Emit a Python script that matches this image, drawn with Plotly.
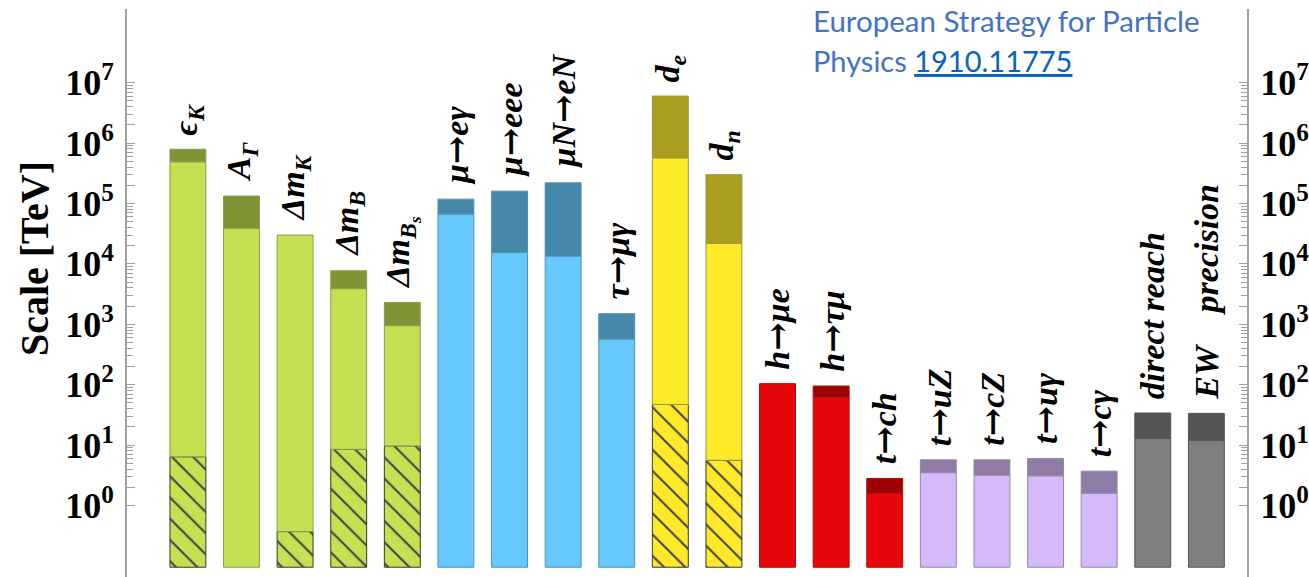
import math
import plotly.graph_objects as go

# ---------------- data ----------------
ARROW = "<span style=\"font-family:'DejaVu Serif'\">→</span>"
labels = ["ϵ<sub>K</sub>", "A<sub>Γ</sub>", "Δm<sub>K</sub>", "Δm<sub>B</sub>", "Δm<sub>B<sub>s</sub></sub>",
          "μ" + ARROW + "eγ", "μ" + ARROW + "eee", "μN" + ARROW + "eN", "τ" + ARROW + "μγ",
          "d<sub>e</sub>", "d<sub>n</sub>",
          "h" + ARROW + "μe", "h" + ARROW + "τμ", "t" + ARROW + "ch", "t" + ARROW + "uZ",
          "t" + ARROW + "cZ", "t" + ARROW + "uγ", "t" + ARROW + "cγ",
          "direct reach", "EW    precision"]
groups = ["green"] * 5 + ["blue"] * 4 + ["yellow"] * 2 + ["red"] * 3 + ["purple"] * 4 + ["grey"] * 2

# hatched (lowest) segment top, TeV (None = no hatched segment)
hatch_top = [6.4, None, 0.37, 8.5, 9.7, None, None, None, None, 47, 5.6,
             None, None, None, None, None, None, None, None, None]
# light segment top, TeV
light_top = [4.9e5, 3.9e4, 3.0e4, 3.9e3, 950, 6.7e4, 1.55e4, 1.35e4, 570, 5.7e5, 2.2e4,
             104, 63, 1.6, 3.5, 3.2, 3.1, 1.6, 13, 12]
# full bar top (dark segment top), TeV
upper = [7.9e5, 1.33e5, 3.0e4, 7.7e3, 2.3e3, 1.18e5, 1.6e5, 2.2e5, 1.5e3, 6.0e6, 3.0e5,
         104, 95, 2.8, 5.7, 5.7, 6.0, 3.7, 34, 33.5]
bar_floor = 0.095

tick_exps = list(range(0, 8))
tick_text = ["10<sup>%d</sup>" % k for k in tick_exps]

# ---------------- styles ----------------
STYLE = {
    "green":  dict(light="#c4e152", dark="#7f9535", edge="#8c9b55"),
    "blue":   dict(light="#66c9fe", dark="#4588aa", edge="#5590b0"),
    "yellow": dict(light="#ffea29", dark="#aa9f1e", edge="#9c9640"),
    "red":    dict(light="#e6070b", dark="#9b0105", edge="#b0080a"),
    "purple": dict(light="#d4b9fb", dark="#8e7ca6", edge="#9686ae"),
    "grey":   dict(light="#7f7f7f", dark="#555555", edge="#555555"),
}
BAR_W = 0.67
AX_COLOR = "#a0a0a0"

fig = go.Figure()

xs = list(range(len(labels)))

# hatched segments
hx = [i for i in xs if hatch_top[i] is not None]
fig.add_trace(go.Bar(
    x=hx, base=[bar_floor] * len(hx), y=[hatch_top[i] - bar_floor for i in hx],
    width=BAR_W,
    marker=dict(color=[STYLE[groups[i]]["light"] for i in hx],
                line=dict(color="#3a3a2a", width=1),
                pattern=dict(shape="\\", fgcolor="#000000", fgopacity=1, fillmode="overlay",
                             size=15, solidity=0.14)),
    showlegend=False, hoverinfo="skip"))

# light segments
lbase = [hatch_top[i] if hatch_top[i] is not None else bar_floor for i in xs]
fig.add_trace(go.Bar(
    x=xs, base=lbase, y=[light_top[i] - lbase[i] for i in xs],
    width=BAR_W,
    marker=dict(color=[STYLE[g]["light"] for g in groups],
                line=dict(color=[STYLE[g]["edge"] for g in groups], width=1)),
    showlegend=False, hoverinfo="skip"))

# dark segments
dx = [i for i in xs if upper[i] > light_top[i]]
fig.add_trace(go.Bar(
    x=dx, base=[light_top[i] for i in dx], y=[upper[i] - light_top[i] for i in dx],
    width=BAR_W,
    marker=dict(color=[STYLE[groups[i]]["dark"] for i in dx],
                line=dict(color=[STYLE[groups[i]]["edge"] for i in dx], width=1)),
    showlegend=False, hoverinfo="skip"))

# dummy trace to realise the right-hand axis
fig.add_trace(go.Scatter(x=[], y=[], yaxis="y2", showlegend=False, hoverinfo="skip"))

# bar labels
for i in xs:
    fig.add_annotation(x=i, y=math.log10(upper[i]), xref="x", yref="y",
                       text=labels[i], textangle=-90, showarrow=False,
                       xanchor="center", yanchor="bottom", yshift=12,
                       font=dict(family="Liberation Serif", size=34, color="black",
                                 weight="bold", style="italic"))

# axis title
fig.add_annotation(xref="paper", yref="paper", x=-0.082, y=0.56,
                   text="Scale [TeV]", textangle=-90, showarrow=False,
                   xanchor="center", yanchor="middle",
                   font=dict(family="Liberation Serif", size=40, color="black", weight="bold"))

# source note
fig.add_annotation(xref="paper", yref="paper", x=(812 - 127) / 1122, y=(577 - 21) / 568,
                   text="European Strategy for Particle", showarrow=False,
                   xanchor="left", yanchor="middle",
                   font=dict(family="Lato", size=29.5, color="#4472c4"))
fig.add_annotation(xref="paper", yref="paper", x=(812 - 127) / 1122, y=(577 - 60) / 568,
                   text="Physics <span style='color:#0563c1'><u>1910.11775</u></span>",
                   showarrow=False, xanchor="left", yanchor="middle",
                   font=dict(family="Lato", size=29, color="#4472c4"))

major_vals = [10 ** k for k in tick_exps] + [2 * 10 ** k for k in tick_exps[:-1]]
major_text = tick_text + [""] * (len(tick_exps) - 1)
minor_vals = [m * 10 ** k for k in tick_exps[:-1] for m in range(3, 10)]

yrange = [-1.184, 8.22]
yax_common = dict(
    type="log", range=yrange, showgrid=False, zeroline=False,
    showline=True, linecolor=AX_COLOR, linewidth=2,
    tickmode="array", tickvals=major_vals, ticktext=major_text,
    ticks="inside", ticklen=8, tickcolor=AX_COLOR, tickwidth=1,
    ticklabelstandoff=4,
    tickfont=dict(family="Liberation Serif", size=36, color="black", weight="bold"),
    minor=dict(tickmode="array", tickvals=minor_vals, ticks="inside", ticklen=6,
               tickcolor=AX_COLOR, tickwidth=1, showgrid=False),
)

fig.update_layout(
    width=1309, height=577,
    margin=dict(l=127, r=60, t=9, b=0),
    paper_bgcolor="white", plot_bgcolor="white",
    barmode="overlay",
    xaxis=dict(range=[-1.136, 19.758], visible=False),
    yaxis=dict(side="left", **yax_common),
    yaxis2=dict(side="right", overlaying="y", **yax_common),
)

fig.write_html("out.html")
